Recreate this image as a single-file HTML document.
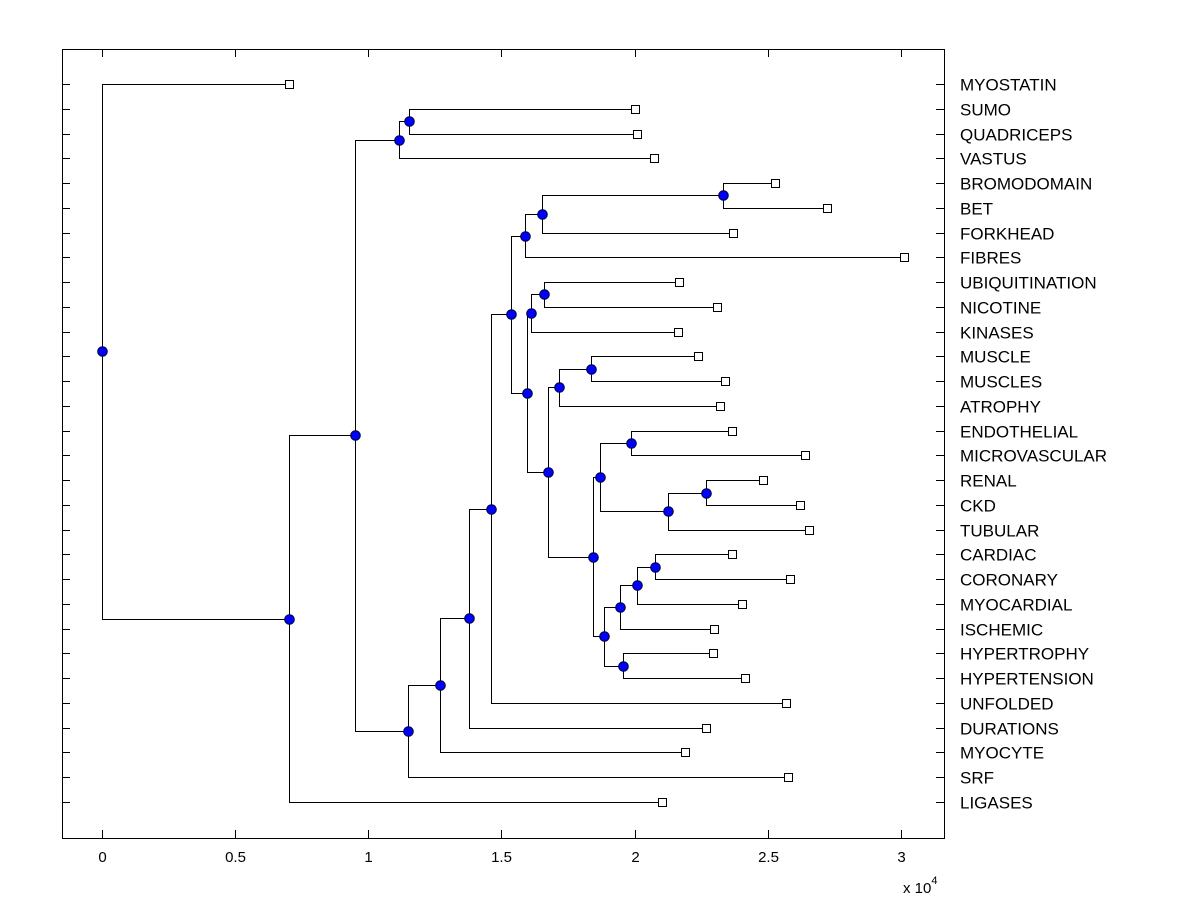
<!DOCTYPE html>
<html><head><meta charset="utf-8"><style>
body{margin:0;background:#fff;}
svg{display:block;font-family:"Liberation Sans",Arial,sans-serif;}
</style></head><body>
<svg id="chart" width="1200" height="900"></svg>
<script>
const leafNames=["MYOSTATIN","SUMO","QUADRICEPS","VASTUS","BROMODOMAIN","BET","FORKHEAD","FIBRES","UBIQUITINATION","NICOTINE","KINASES","MUSCLE","MUSCLES","ATROPHY","ENDOTHELIAL","MICROVASCULAR","RENAL","CKD","TUBULAR","CARDIAC","CORONARY","MYOCARDIAL","ISCHEMIC","HYPERTROPHY","HYPERTENSION","UNFOLDED","DURATIONS","MYOCYTE","SRF","LIGASES"];
const leafHeights=[0.702,2.001,2.009,2.073,2.527,2.722,2.370,3.012,2.167,2.309,2.163,2.238,2.339,2.321,2.366,2.640,2.482,2.621,2.655,2.366,2.584,2.403,2.298,2.294,2.415,2.569,2.268,2.189,2.576,2.103];
const nodeNames=["E","C","M","L","J","P","N","S","Q","V","X","W","T","AB","AA","Y","Z","U","R","O","K","I","H","G","F","D","B","A","ROOT"];
const nodeHeights=[1.153,1.115,2.332,1.652,1.588,1.660,1.611,1.836,1.716,1.986,2.268,2.125,1.870,2.077,2.009,1.945,1.956,1.885,1.844,1.675,1.596,1.536,1.461,1.378,1.269,1.149,0.950,0.702,0.0];
const nodeLeft=["SUMO","E","BROMODOMAIN","M","L","UBIQUITINATION","P","MUSCLE","S","ENDOTHELIAL","RENAL","X","V","CARDIAC","AB","AA","HYPERTROPHY","Y","T","Q","N","J","I","H","G","F","C","B","MYOSTATIN"];
const nodeRight=["QUADRICEPS","VASTUS","BET","FORKHEAD","FIBRES","NICOTINE","KINASES","MUSCLES","ATROPHY","MICROVASCULAR","CKD","TUBULAR","W","CORONARY","MYOCARDIAL","ISCHEMIC","HYPERTENSION","Z","U","R","O","K","UNFOLDED","DURATIONS","MYOCYTE","SRF","D","LIGASES","A"];
const xTicks=[0,0.5,1,1.5,2,2.5,3];
const xTickLabels=["0","0.5","1","1.5","2","2.5","3"];

const NS="http://www.w3.org/2000/svg";
const svg=document.getElementById("chart");
const L=62,R=944,T=49,B=838;
const xMin=-0.1502,xMax=3.162;
const X=v=>L+(v-xMin)/(xMax-xMin)*(R-L);
const Y=i=>84+i*(802-84)/(leafNames.length-1);
function el(tag,attrs,parent){const e=document.createElementNS(NS,tag);for(const k in attrs)e.setAttribute(k,attrs[k]);(parent||svg).appendChild(e);return e;}

const pos={};
leafNames.forEach((n,i)=>{pos[n]={x:X(leafHeights[i]),y:Y(i),leaf:true};});
nodeNames.forEach((n,i)=>{
  const a=pos[nodeLeft[i]],b=pos[nodeRight[i]];
  pos[n]={x:X(nodeHeights[i]),y:(a.y+b.y)/2,leaf:false,a:a,b:b};
});

const box=el("rect",{x:L+0.5,y:T+0.5,width:R-L,height:B-T,fill:"none",stroke:"#000","stroke-width":1});



xTicks.forEach((t,i)=>{
  const x=Math.round(X(t))+0.5;
  const g=el("g",{});
  
  
  el("line",{x1:x,x2:x,y1:B,y2:B-8,stroke:"#000"},g);
  el("line",{x1:x,x2:x,y1:T,y2:T+8,stroke:"#000"},g);
  const tx=el("text",{x:x,y:B+24,"font-size":15,"text-anchor":"middle"},g);
  tx.textContent=xTickLabels[i];
});
const ex=el("text",{x:903,y:893,"font-size":15});


ex.innerHTML='x 10<tspan dy="-9" font-size="11">4</tspan>';

leafNames.forEach((n,i)=>{
  const y=Math.round(Y(i))+0.5;
  const g=el("g",{});
  
  
  el("line",{x1:L,x2:L+8,y1:y,y2:y,stroke:"#000"},g);
  el("line",{x1:R-8,x2:R,y1:y,y2:y,stroke:"#000"},g);
  const tx=el("text",{x:960,y:y+6,"font-size":17},g);
  tx.textContent=n;
});

nodeNames.forEach(n=>{
  const p=pos[n];
  const g=el("g",{fill:"none",stroke:"#000","stroke-width":1});
  
  
  const x=Math.round(p.x)+0.5;
  el("path",{d:`M${Math.round(p.a.x)+0.5},${Math.round(p.a.y)+0.5}H${x}V${Math.round(p.b.y)+0.5}H${Math.round(p.b.x)+0.5}`},g);
});
leafNames.forEach(n=>{
  const p=pos[n];
  const r=el("rect",{x:Math.round(p.x)-3.5,y:Math.round(p.y)-3.5,width:8,height:8,fill:"#fff",stroke:"#000"});
  
  
});
nodeNames.forEach(n=>{
  const p=pos[n];
  const c=el("circle",{cx:Math.round(p.x)+0.5,cy:Math.round(p.y)+0.5,r:4.8,fill:"#0000ff",stroke:"#00003a","stroke-width":1});
  
  
});
</script>
</body></html>
